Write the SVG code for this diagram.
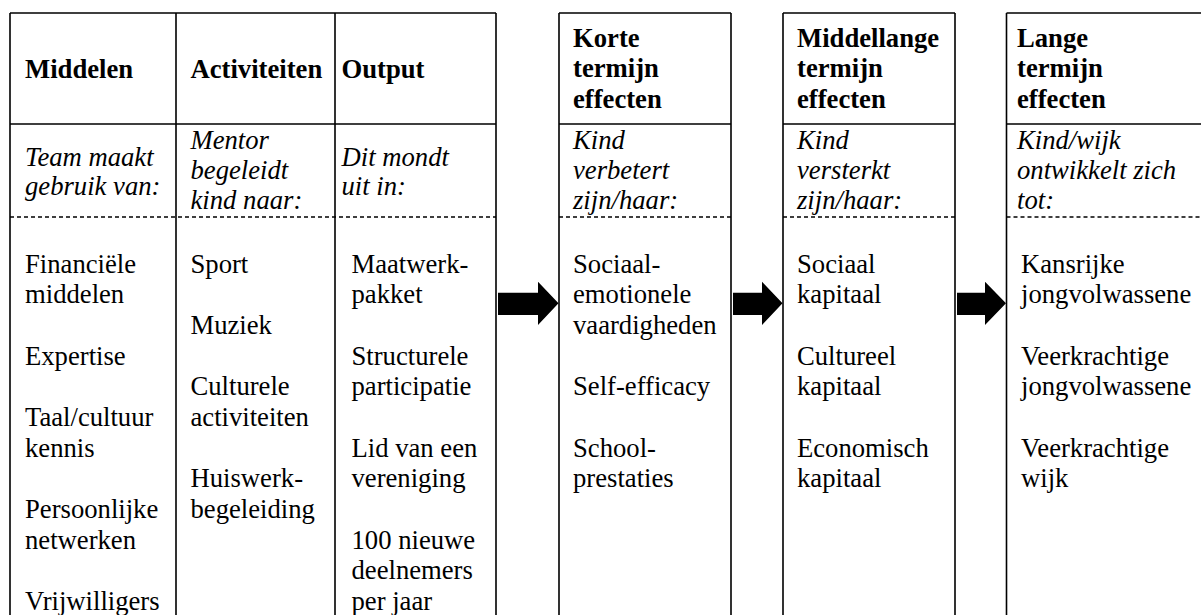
<svg xmlns="http://www.w3.org/2000/svg" width="1201" height="615" viewBox="0 0 1201 615">
<style>
text{font-family:"Liberation Serif","Times New Roman",serif;font-size:26.67px;fill:#000}
.h{font-weight:bold}
.i{font-style:italic}
.ln{stroke:#000;stroke-width:1.6;fill:none}
.dash{stroke:#000;stroke-width:1.4;stroke-dasharray:4 3;fill:none}
.arr{fill:#000;stroke:none}
</style>
<rect width="1201" height="615" fill="#fff"/>
<g id="frame">
<path class="ln" d="M10,13H496M10,124H496M10,13V615M176,13V615M335,13V615M496,13V615"/>
<path class="dash" d="M10,217H496"/>
<path class="ln" d="M559,13H731M559,124H731M559,13V615M731,13V615"/>
<path class="dash" d="M559,217H731"/>
<path class="ln" d="M783,13H955M783,124H955M783,13V615M955,13V615"/>
<path class="dash" d="M783,217H955"/>
<path class="ln" d="M1006.5,13H1201M1006.5,124H1201M1006.5,13V615"/>
<path class="dash" d="M1006.5,217H1201"/>
</g>
<g id="middelen">
<text class="h" x="25" y="77.7">Middelen</text>
<text class="i" x="25" y="166">Team maakt</text>
<text class="i" x="25" y="195">gebruik van:</text>
<text x="25" y="272.7">Financiële</text>
<text x="25" y="303.3">middelen</text>
<text x="25" y="364.7">Expertise</text>
<text x="25" y="426">Taal/cultuur</text>
<text x="25" y="456.6">kennis</text>
<text x="25" y="518">Persoonlijke</text>
<text x="25" y="548.6">netwerken</text>
<text x="25" y="610">Vrijwilligers</text>
</g>
<g id="activiteiten">
<text class="h" x="190.5" y="77.7">Activiteiten</text>
<text class="i" x="190.5" y="148.5">Mentor</text>
<text class="i" x="190.5" y="179">begeleidt</text>
<text class="i" x="190.5" y="209">kind naar:</text>
<text x="190.5" y="272.7">Sport</text>
<text x="190.5" y="334">Muziek</text>
<text x="190.5" y="395.3">Culturele</text>
<text x="190.5" y="426">activiteiten</text>
<text x="190.5" y="487.3">Huiswerk-</text>
<text x="190.5" y="518">begeleiding</text>
</g>
<g id="output">
<text class="h" x="341.5" y="77.7">Output</text>
<text class="i" x="341.5" y="166">Dit mondt</text>
<text class="i" x="341.5" y="195">uit in:</text>
<text x="351.5" y="272.7">Maatwerk-</text>
<text x="351.5" y="303.3">pakket</text>
<text x="351.5" y="364.7">Structurele</text>
<text x="351.5" y="395.3">participatie</text>
<text x="351.5" y="456.6">Lid van een</text>
<text x="351.5" y="487.3">vereniging</text>
<text x="351.5" y="548.6">100 nieuwe</text>
<text x="351.5" y="579.3">deelnemers</text>
<text x="351.5" y="610">per jaar</text>
</g>
<g id="korte">
<text class="h" x="573" y="46.5">Korte</text>
<text class="h" x="573" y="77">termijn</text>
<text class="h" x="573" y="107.5">effecten</text>
<text class="i" x="573" y="148.5">Kind</text>
<text class="i" x="573" y="179">verbetert</text>
<text class="i" x="573" y="209">zijn/haar:</text>
<text x="573" y="272.7">Sociaal-</text>
<text x="573" y="303.3">emotionele</text>
<text x="573" y="334">vaardigheden</text>
<text x="573" y="395.3">Self-efficacy</text>
<text x="573" y="456.6">School-</text>
<text x="573" y="487.3">prestaties</text>
</g>
<g id="middellange">
<text class="h" x="797" y="46.5">Middellange</text>
<text class="h" x="797" y="77">termijn</text>
<text class="h" x="797" y="107.5">effecten</text>
<text class="i" x="797" y="148.5">Kind</text>
<text class="i" x="797" y="179">versterkt</text>
<text class="i" x="797" y="209">zijn/haar:</text>
<text x="797" y="272.7">Sociaal</text>
<text x="797" y="303.3">kapitaal</text>
<text x="797" y="364.7">Cultureel</text>
<text x="797" y="395.3">kapitaal</text>
<text x="797" y="456.6">Economisch</text>
<text x="797" y="487.3">kapitaal</text>
</g>
<g id="lange">
<text class="h" x="1017" y="46.5">Lange</text>
<text class="h" x="1017" y="77">termijn</text>
<text class="h" x="1017" y="107.5">effecten</text>
<text class="i" x="1017" y="148.5">Kind/wijk</text>
<text class="i" x="1017" y="179">ontwikkelt zich</text>
<text class="i" x="1017" y="209">tot:</text>
<text x="1021" y="272.7">Kansrijke</text>
<text x="1021" y="303.3">jongvolwassene</text>
<text x="1021" y="364.7">Veerkrachtige</text>
<text x="1021" y="395.3">jongvolwassene</text>
<text x="1021" y="456.6">Veerkrachtige</text>
<text x="1021" y="487.3">wijk</text>
</g>
<g id="connectors">
<polygon class="arr" points="498,292.7 538,292.7 538,281.7 558.5,303.3 538,325 538,315 498,315"/>
<polygon class="arr" points="733,292.7 762,292.7 762,281.7 782.5,303.3 762,325 762,315 733,315"/>
<polygon class="arr" points="957,292.7 985,292.7 985,281.7 1006,303.3 985,325 985,315 957,315"/>
</g>
</svg>
